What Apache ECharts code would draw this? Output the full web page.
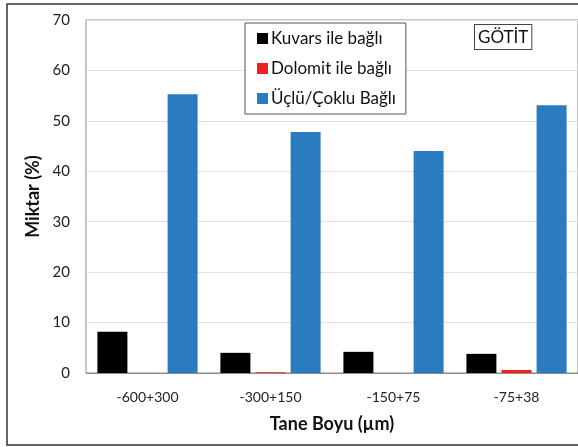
<!DOCTYPE html>
<html>
<head>
<meta charset="utf-8">
<script src="https://cdn.jsdelivr.net/npm/echarts@6/dist/echarts.min.js"></script>
<style>
  html, body { margin: 0; padding: 0; background: #fff; }
  #chart { width: 578px; height: 447px; }
</style>
</head>
<body>
<div id="chart"></div>
<script>
var categories = ['-600+300', '-300+150', '-150+75', '-75+38']
var kuvars = [8.2, 4.0, 4.2, 3.8]
var dolomit = [0, 0.15, 0, 0.6]
var coklu = [55.3, 47.8, 44.0, 53.1]
var yTicks = [0, 10, 20, 30, 40, 50, 60, 70]

var font = 'Lato, "DejaVu Sans", sans-serif'
var chart = echarts.init(document.getElementById('chart'))

var option = {
  animation: false,
  textStyle: { fontFamily: font },
  grid: {
    left: 86,
    top: 20,
    width: 495,
    height: 353,
    show: true,
    borderColor: '#8c8c8c',
    borderWidth: 1
  },
  legend: {
    orient: 'vertical',
    left: 245,
    top: 23,
    width: 163,
    padding: [7, 10, 7, 12],
    backgroundColor: '#fff',
    borderColor: '#555',
    borderWidth: 1,
    itemWidth: 11,
    itemHeight: 11,
    itemGap: 13,
    icon: 'rect',
    textStyle: { fontSize: 17, color: '#111', fontFamily: font, padding: [0, 0, 0, -2] },
    data: ['Kuvars ile bağlı', 'Dolomit ile bağlı', 'Üçlü/Çoklu Bağlı']
  },
  graphic: [
    {
      type: 'rect',
      shape: { x: 7, y: 4, width: 600, height: 441 },
      style: { fill: 'none', stroke: '#333', lineWidth: 1.5 },
      silent: true
    },
    {
      type: 'text',
      left: 474,
      top: 24,
      style: {
        text: 'GÖTİT',
        fontSize: 17,
        fontFamily: font,
        fill: '#111',
        backgroundColor: '#fff',
        borderColor: '#444',
        borderWidth: 1,
        padding: [4, 3, 3, 3]
      }
    }
  ],
  xAxis: {
    type: 'category',
    data: categories,
    name: 'Tane Boyu (µm)',
    nameLocation: 'middle',
    nameGap: 42,
    nameTextStyle: { fontSize: 18, fontWeight: 'bold', color: '#111', fontFamily: font },
    axisLine: { lineStyle: { color: '#8c8c8c', width: 1 } },
    axisTick: { show: false },
    axisLabel: { fontSize: 14, color: '#222', margin: 17, fontFamily: font }
  },
  yAxis: {
    type: 'value',
    min: yTicks[0],
    max: yTicks[yTicks.length - 1],
    interval: 10,
    name: 'Miktar (%)',
    nameLocation: 'middle',
    nameRotate: 90,
    nameGap: 41,
    nameTextStyle: { fontSize: 18, fontWeight: 'bold', color: '#111', fontFamily: font },
    axisLine: { show: false },
    axisTick: { show: false },
    axisLabel: { fontSize: 15, color: '#222', margin: 16, fontFamily: font },
    splitLine: { lineStyle: { color: '#e0e0e0', width: 1 } }
  },
  series: [
    {
      name: 'Kuvars ile bağlı',
      type: 'bar',
      data: kuvars,
      barWidth: 30,
      barGap: '17%',
      itemStyle: { color: '#000' }
    },
    {
      name: 'Dolomit ile bağlı',
      type: 'bar',
      data: dolomit,
      barWidth: 30,
      barGap: '17%',
      itemStyle: { color: '#ee2020' }
    },
    {
      name: 'Üçlü/Çoklu Bağlı',
      type: 'bar',
      data: coklu,
      barWidth: 30,
      barGap: '17%',
      itemStyle: { color: '#2b7bc1' }
    }
  ]
}

chart.setOption(option, true)
</script>
</body>
</html>
